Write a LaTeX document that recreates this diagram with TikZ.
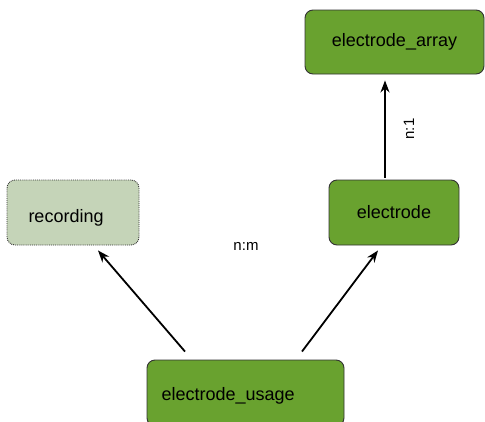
\documentclass[tikz,border=0pt]{standalone}
\usepackage{fontspec}
\setmainfont{Liberation Sans}
\usetikzlibrary{arrows.meta}
\definecolor{tablegreen}{HTML}{69A22F}
\definecolor{paleGreen}{HTML}{C5D4B8}
\definecolor{edgegray}{HTML}{333333}
\begin{document}
\begin{tikzpicture}[x=1pt,y=-1pt,
  entity/.style={draw=edgegray, line width=0.9pt, rounded corners=8pt, fill=tablegreen,
    font=\fontsize{18}{20}\selectfont, inner sep=0pt, text height=13pt, text depth=4pt},
  link/.style={-{Stealth[length=12pt,width=9pt]}, line width=1.8pt, black},
  card/.style={font=\fontsize{15}{17}\selectfont}]
\useasboundingbox (0,0) rectangle (485,421);
\fill[white] (0,0) rectangle (485,421);

% tables (a taller text height pushes the name lower in its box)
\node[entity, minimum width=179pt, minimum height=64pt] (arr) at (394.5,42) {electrode\_array};
\node[entity, minimum width=130pt, minimum height=65pt, text height=16pt] (elec) at (394,212.5) {electrode};
\node[entity, fill=paleGreen, densely dotted, minimum width=132pt, minimum height=65pt,
  text width=111pt, align=left, text height=23pt] (rec) at (73,212.5) {\hspace*{11pt}recording};
\node[entity, minimum width=197pt, minimum height=66pt,
  text width=184pt, align=left, text height=19pt] (use) at (245.5,393) {\hspace*{8pt}electrode\_usage};

% relations
\draw[link] ([xshift=-9pt,yshift=2pt]elec.north) -- ([xshift=-9.5pt,yshift=-6pt]arr.south);
\draw[link] ([xshift=-60.5pt,yshift=8pt]use.north) -- ([xshift=25pt,yshift=-5pt]rec.south);
\draw[link] ([xshift=56.5pt,yshift=8pt]use.north) -- ([xshift=-16pt,yshift=-5pt]elec.south);

% cardinalities
\node[card] (nm) at (246,246) {n:m};
\node[card, rotate=90] (n1) at (409,129) {n:1};
\end{tikzpicture}
\end{document}
